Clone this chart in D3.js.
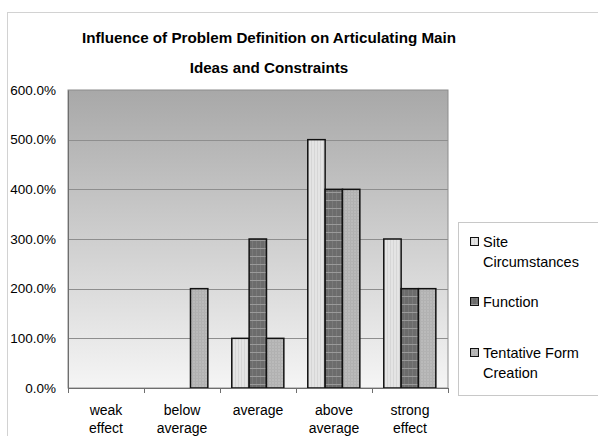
<!DOCTYPE html>
<html>
<head>
<meta charset="utf-8">
<script src="https://cdn.jsdelivr.net/npm/d3@7"></script>
<style>
  html, body { margin: 0; padding: 0; background: #ffffff; }
  svg { display: block; font-family: "Liberation Sans", Arial, sans-serif; }
</style>
</head>
<body>
<svg id="chart" width="598" height="436"></svg>
<script>
// Chart data
const categories = [["weak", "effect"], ["below", "average"], ["average"], ["above", "average"], ["strong", "effect"]];
const seriesNames = ["Site Circumstances", "Function", "Tentative Form Creation"];
const legendLines = [["Site", "Circumstances"], ["Function"], ["Tentative Form", "Creation"]];
const siteCircumstances = [0, 0, 100, 500, 300];
const functionValues = [0, 0, 300, 400, 200];
const tentativeForm = [0, 200, 100, 400, 200];
const yTicks = [0, 100, 200, 300, 400, 500, 600];
const titleLines = ["Influence of Problem Definition on Articulating Main", "Ideas and Constraints"];

const seriesValues = [siteCircumstances, functionValues, tentativeForm];

const svg = d3.select("#chart");
const W = 598, H = 436;
const plot = { left: 68, right: 448, top: 90, bottom: 388 };

// outer chart frame
svg.append("rect")
  .attr("x", 7.5).attr("y", 12.5).attr("width", W).attr("height", H)
  .attr("fill", "#ffffff").attr("stroke", "#d2d2d2").attr("stroke-width", 1);

const defs = svg.append("defs");

// plot-area background gradient
const grad = defs.append("linearGradient").attr("id", "plotBg")
  .attr("x1", 0).attr("y1", 0).attr("x2", 0).attr("y2", 1);
grad.append("stop").attr("offset", "0%").attr("stop-color", "#a8a8a8");
grad.append("stop").attr("offset", "100%").attr("stop-color", "#f5f5f5");

// bar fill patterns
const p0 = defs.append("pattern").attr("id", "pat0").attr("patternUnits", "userSpaceOnUse")
  .attr("width", 3).attr("height", 3);
p0.append("rect").attr("width", 3).attr("height", 3).attr("fill", "#e4e4e4");
p0.append("rect").attr("x", 0).attr("width", 1).attr("height", 3).attr("fill", "#d6d6d6");

const p1 = defs.append("pattern").attr("id", "pat1").attr("patternUnits", "userSpaceOnUse")
  .attr("width", 4).attr("height", 8);
p1.append("rect").attr("width", 4).attr("height", 8).attr("fill", "#6c6c6c");
p1.append("rect").attr("x", 0).attr("width", 1).attr("height", 8).attr("fill", "#787878");
p1.append("rect").attr("y", 0).attr("width", 4).attr("height", 1).attr("fill", "#9a9a9a");

const p2 = defs.append("pattern").attr("id", "pat2").attr("patternUnits", "userSpaceOnUse")
  .attr("width", 3).attr("height", 3);
p2.append("rect").attr("width", 3).attr("height", 3).attr("fill", "#bababa");
p2.append("rect").attr("width", 1).attr("height", 3).attr("fill", "#b0b0b0");
p2.append("rect").attr("width", 3).attr("height", 1).attr("fill", "#b2b2b2");

// scales
const x0 = d3.scaleBand().domain(d3.range(categories.length)).range([plot.left, plot.right]).padding(0);
const x1 = d3.scaleBand().domain(d3.range(seriesNames.length))
  .range([x0.bandwidth() * 0.155, x0.bandwidth() * 0.84]).padding(0);
const y = d3.scaleLinear().domain([0, 600]).range([plot.bottom, plot.top]);

// plot background
svg.append("rect")
  .attr("x", plot.left).attr("y", plot.top)
  .attr("width", plot.right - plot.left).attr("height", plot.bottom - plot.top)
  .attr("fill", "url(#plotBg)").attr("stroke", "#8c8c8c").attr("stroke-width", 1);

// gridlines
svg.append("g").selectAll("line").data(yTicks.filter(d => d > 0 && d < 600)).join("line")
  .attr("x1", plot.left).attr("x2", plot.right)
  .attr("y1", d => Math.round(y(d)) + 0.5).attr("y2", d => Math.round(y(d)) + 0.5)
  .attr("stroke", "#8e8e8e").attr("stroke-width", 1);

// y axis
const yAxis = svg.append("g").attr("transform", `translate(${plot.left},0)`)
  .call(d3.axisLeft(y).tickValues(yTicks).tickSize(0).tickPadding(12)
    .tickFormat(d => d3.format(".1f")(d) + "%"));
yAxis.select(".domain").attr("stroke", "#6e6e6e");
yAxis.selectAll("text").attr("font-size", 13.5).attr("fill", "#000")
  .attr("font-family", "'Liberation Sans', Arial, sans-serif");

// bars
const groups = svg.append("g").selectAll("g").data(categories.map((c, i) => i)).join("g")
  .attr("transform", i => `translate(${x0(i)},0)`);
groups.selectAll("rect")
  .data(i => seriesValues.map((vals, s) => ({ s, v: vals[i] })).filter(d => d.v > 0))
  .join("rect")
  .attr("x", d => x1(d.s))
  .attr("y", d => y(d.v))
  .attr("width", x1.bandwidth())
  .attr("height", d => y(0) - y(d.v))
  .attr("fill", d => `url(#pat${d.s})`)
  .attr("stroke", "#111").attr("stroke-width", 1.5);

// x axis
const xAxis = svg.append("g").attr("transform", `translate(0,${plot.bottom})`);
xAxis.append("line").attr("x1", plot.left).attr("x2", plot.right)
  .attr("y1", 0.5).attr("y2", 0.5).attr("stroke", "#6e6e6e");
xAxis.selectAll(".tk").data(d3.range(categories.length + 1)).join("line")
  .attr("class", "tk")
  .attr("x1", i => Math.round(plot.left + i * x0.bandwidth()) + 0.5)
  .attr("x2", i => Math.round(plot.left + i * x0.bandwidth()) + 0.5)
  .attr("y1", 0).attr("y2", 5).attr("stroke", "#6e6e6e");
const xl = xAxis.selectAll("text").data(categories).join("text")
  .attr("text-anchor", "middle").attr("font-size", 14).attr("fill", "#000")
  .attr("x", (d, i) => x0(i) + x0.bandwidth() / 2);
xl.selectAll("tspan").data(d => d).join("tspan")
  .attr("x", function () { return this.parentNode.getAttribute("x"); })
  .attr("y", (d, j) => 27 + j * 18)
  .text(d => d);

// title
svg.append("g").selectAll("text").data(titleLines).join("text")
  .attr("x", 269).attr("y", (d, i) => 43 + i * 30)
  .attr("text-anchor", "middle").attr("font-weight", "bold").attr("font-size", 15.2)
  .attr("fill", "#000").text(d => d);

// legend
const lg = svg.append("g");
lg.append("rect").attr("x", 458.5).attr("y", 222.5).attr("width", 140).attr("height", 173)
  .attr("fill", "#ffffff").attr("stroke", "#c8c8c8");
const itemY = [247, 307, 358];
seriesNames.forEach((name, s) => {
  lg.append("rect").attr("x", 470.5).attr("y", itemY[s] - 9.5).attr("width", 8).attr("height", 8)
    .attr("fill", `url(#pat${s})`).attr("stroke", "#111").attr("stroke-width", 1);
  const t = lg.append("text").attr("font-size", 14.5).attr("fill", "#000");
  legendLines[s].forEach((line, j) => {
    t.append("tspan").attr("x", 483).attr("y", itemY[s] + j * 20).text(line);
  });
});
</script>
</body>
</html>
